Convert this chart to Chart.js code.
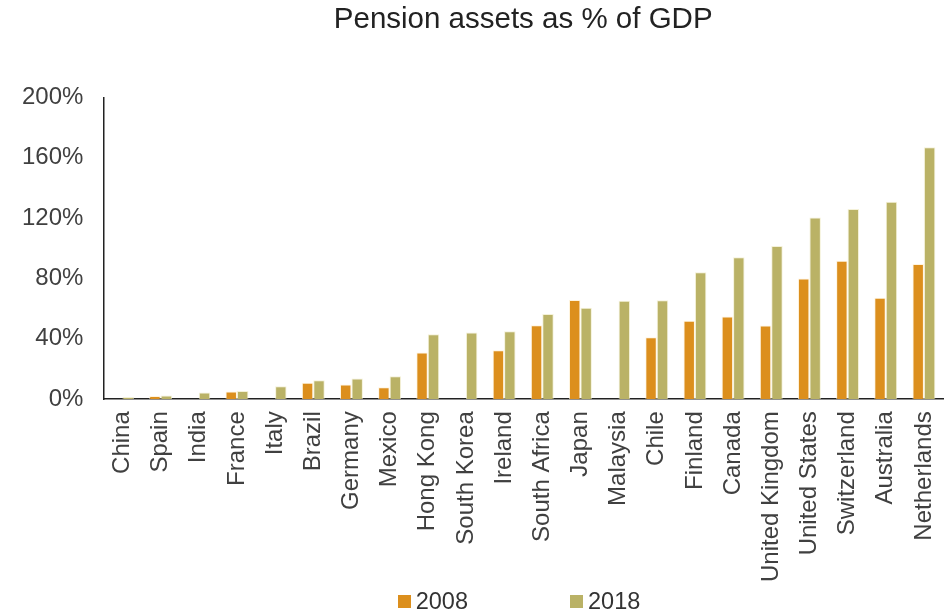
<!DOCTYPE html>
<html>
<head>
<meta charset="utf-8">
<script src="https://cdn.jsdelivr.net/npm/chart.js@4/dist/chart.umd.min.js"></script>
<style>
  html, body { margin: 0; padding: 0; background: #fff; }
  #wrap { width: 946px; height: 612px; position: relative; }
  #legend { position: absolute; left: 0; top: 588px; width: 946px; display: flex; justify-content: center; gap: 102px;
            padding-left: 92px; box-sizing: border-box;
            font-family: "Liberation Sans", Arial, sans-serif; font-size: 23.5px; color: #333; }
  #legend span.item { display: flex; align-items: center; }
  #legend span.box { display: inline-block; width: 13px; height: 13px; margin-right: 5px; }
</style>
</head>
<body>
<div id="wrap">
  <canvas id="pensionChart" width="946" height="600"></canvas>
  <div id="legend"></div>
</div>
<script>
// Активы пенсионных фондов, % ВВП
const countries = ['China', 'Spain', 'India', 'France', 'Italy', 'Brazil', 'Germany', 'Mexico', 'Hong Kong',
  'South Korea', 'Ireland', 'South Africa', 'Japan', 'Malaysia', 'Chile', 'Finland', 'Canada',
  'United Kingdom', 'United States', 'Switzerland', 'Australia', 'Netherlands'];
const assets2008 = [null, 2.2, null, 5.2, null, 11, 9.7, 8, 31, null, 32.4, 49, 65.8, null, 41, 52, 54.9, 48.8, 80, 91.7, 67.3, 89.6];
const assets2018 = [1.5, 2.5, 4.5, 5.5, 8.6, 12.6, 13.7, 15.3, 43, 44.3, 45, 56.4, 60.7, 65.3, 65.6, 84.2, 94, 101.5, 120.5, 126, 130.9, 167];
const yTicks = [0, 40, 80, 120, 160, 200];

const seriesColors = { '2008': '#DC8F1D', '2018': '#BAB266' };
const textColor = '#404040';
const font = 'Liberation Sans, Arial, sans-serif';

const ctx = document.getElementById('pensionChart').getContext('2d');
const pensionChart = new Chart(ctx, {
    type: 'bar',
    data: {
        labels: countries,
        datasets: [
            {
                label: '2008',
                data: assets2008,
                backgroundColor: seriesColors['2008'],
                borderColor: 'rgba(255,240,210,0.7)',
                borderWidth: 1,
            },
            {
                label: '2018',
                data: assets2018,
                backgroundColor: seriesColors['2018'],
                borderColor: 'rgba(240,235,200,0.7)',
                borderWidth: 1,
            }
        ]
    },
    options: {
        responsive: false,
        animation: false,
        layout: { padding: { left: 2, right: 3, top: 0, bottom: 6 } },
        datasets: { bar: { categoryPercentage: 0.6, barPercentage: 1 } },
        plugins: {
            legend: { display: false },
            tooltip: { enabled: false },
            title: {
                display: true,
                fullSize: false,
                text: 'Pension assets as % of GDP',
                color: '#222',
                font: { family: font, size: 29.5, weight: 'normal' },
                padding: { top: 2, bottom: 60 },
            }
        },
        scales: {
            x: {
                grid: { display: false, drawTicks: false },
                border: { display: true, color: '#222', width: 1.5 },
                // подписи повёрнуты на 90°, лишние отступы по краям не нужны
                afterFit: scale => { scale.paddingLeft = 0; scale.paddingRight = 0; },
                ticks: {
                    color: textColor,
                    font: { family: font, size: 24 },
                    maxRotation: 90,
                    minRotation: 90,
                    autoSkip: false,
                    padding: 12,
                }
            },
            y: {
                min: 0,
                max: 200,
                afterBuildTicks: axis => { axis.ticks = yTicks.map(v => ({ value: v })); },
                grid: { display: false, drawTicks: false },
                border: { display: true, color: '#222', width: 1.5 },
                ticks: {
                    color: textColor,
                    font: { family: font, size: 24 },
                    padding: 20,
                    callback: v => v + '%',
                }
            }
        }
    }
});

// Легенда под графиком
const legendDiv = document.getElementById('legend');
pensionChart.data.datasets.forEach(ds => {
    legendDiv.innerHTML += `<span class="item"><span class="box" style="background:${ds.backgroundColor}"></span>${ds.label}</span>`;
});
</script>
</body>
</html>
